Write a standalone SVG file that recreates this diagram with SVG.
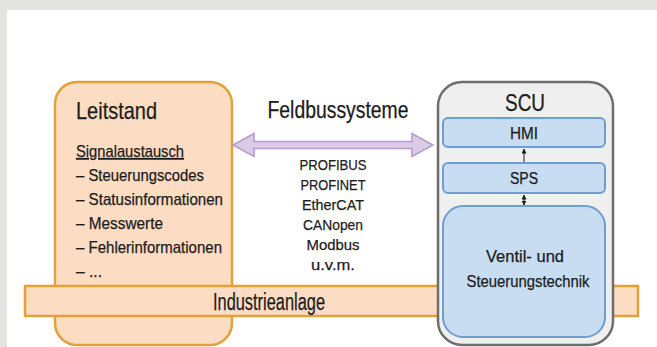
<svg xmlns="http://www.w3.org/2000/svg" width="657" height="347" viewBox="0 0 657 347">
<style>
text{font-family:"Liberation Sans",Arial,sans-serif;fill:#1c1c1c;stroke:#1c1c1c;stroke-width:0.25}
.t{font-size:24px}
.s{font-size:16.5px}
.p{font-size:15.5px;text-anchor:middle}
.c{text-anchor:middle}
.org{fill:#fcdcc2;stroke:#e2a23a;stroke-width:2.5}
.blue{fill:#c8ddf1;stroke:#6e9dd3;stroke-width:2}
</style>
<defs>
<marker id="ah" viewBox="0 0 10 10" refX="9" refY="5" markerWidth="5" markerHeight="5" orient="auto-start-reverse"><path d="M0,0 L10,5 L0,10 z" fill="#1c1c1c"/></marker>
</defs>
<rect x="0" y="0" width="657" height="347" fill="#e3e3df"/>
<rect x="7" y="10" width="650" height="337" fill="#ffffff"/>
<g id="leitstand">
<rect class="org" x="55" y="82" width="177" height="263" rx="22"/>
<text class="t" x="76" y="119" textLength="81" lengthAdjust="spacingAndGlyphs">Leitstand</text>
<text class="s" x="76" y="157" textLength="108" lengthAdjust="spacingAndGlyphs" text-decoration="underline">Signalaustausch</text>
<text class="s" x="76" y="181" textLength="128" lengthAdjust="spacingAndGlyphs">– Steuerungscodes</text>
<text class="s" x="76" y="205" textLength="147" lengthAdjust="spacingAndGlyphs">– Statusinformationen</text>
<text class="s" x="76" y="229" textLength="87" lengthAdjust="spacingAndGlyphs">– Messwerte</text>
<text class="s" x="76" y="253" textLength="146" lengthAdjust="spacingAndGlyphs">– Fehlerinformationen</text>
<text class="s" x="76" y="277" textLength="26" lengthAdjust="spacingAndGlyphs">– ...</text>
</g>
<g id="industrieanlage">
<rect class="org" x="25" y="286" width="613" height="30"/>
<text x="269" y="310" class="c" font-size="23" textLength="112" lengthAdjust="spacingAndGlyphs">Industrieanlage</text>
</g>
<g id="scu">
<rect x="438" y="82" width="175" height="263" rx="24" fill="#efefef" stroke="#6e6e6e" stroke-width="2.5"/>
<text x="525" y="111" class="c" font-size="23" textLength="40" lengthAdjust="spacingAndGlyphs">SCU</text>
</g>
<g id="hmi">
<rect class="blue" x="443" y="118" width="162" height="29" rx="5"/>
<text x="524" y="139" class="c" font-size="16" textLength="28" lengthAdjust="spacingAndGlyphs">HMI</text>
</g>
<g id="sps">
<rect class="blue" x="443" y="163" width="162" height="30" rx="5"/>
<text x="524" y="184" class="c" font-size="16" textLength="28" lengthAdjust="spacingAndGlyphs">SPS</text>
</g>
<g id="ventil">
<rect class="blue" x="443" y="206" width="162" height="131" rx="20"/>
<text x="525" y="262" class="c" font-size="16.5" textLength="78" lengthAdjust="spacingAndGlyphs">Ventil- und</text>
<text x="528" y="287" class="c" font-size="16.5" textLength="123" lengthAdjust="spacingAndGlyphs">Steuerungstechnik</text>
</g>
<g id="feldbus">
<text x="338" y="118" class="c" font-size="23" textLength="141" lengthAdjust="spacingAndGlyphs">Feldbussysteme</text>
<text x="333" y="170" class="p" textLength="67" lengthAdjust="spacingAndGlyphs">PROFIBUS</text>
<text x="333" y="190" class="p" textLength="65" lengthAdjust="spacingAndGlyphs">PROFINET</text>
<text x="333" y="210" class="p" textLength="62" lengthAdjust="spacingAndGlyphs">EtherCAT</text>
<text x="333" y="230" class="p" textLength="60" lengthAdjust="spacingAndGlyphs">CANopen</text>
<text x="333" y="250" class="p" textLength="53" lengthAdjust="spacingAndGlyphs">Modbus</text>
<text x="333" y="270" class="p" textLength="44" lengthAdjust="spacingAndGlyphs">u.v.m.</text>
</g>
<g id="connectors">
<path d="M233,145 L254,133.5 L254,141.5 L412,141.5 L412,133.5 L433,145 L412,156.5 L412,148.5 L254,148.5 L254,156.5 Z" fill="#dccbe6" stroke="#b39ccc" stroke-width="1.5"/>
<line x1="524" y1="162" x2="524" y2="149" stroke="#1c1c1c" stroke-width="1" marker-end="url(#ah)"/>
<line x1="524" y1="195" x2="524" y2="205" stroke="#1c1c1c" stroke-width="1" marker-start="url(#ah)" marker-end="url(#ah)"/>
</g>
</svg>
